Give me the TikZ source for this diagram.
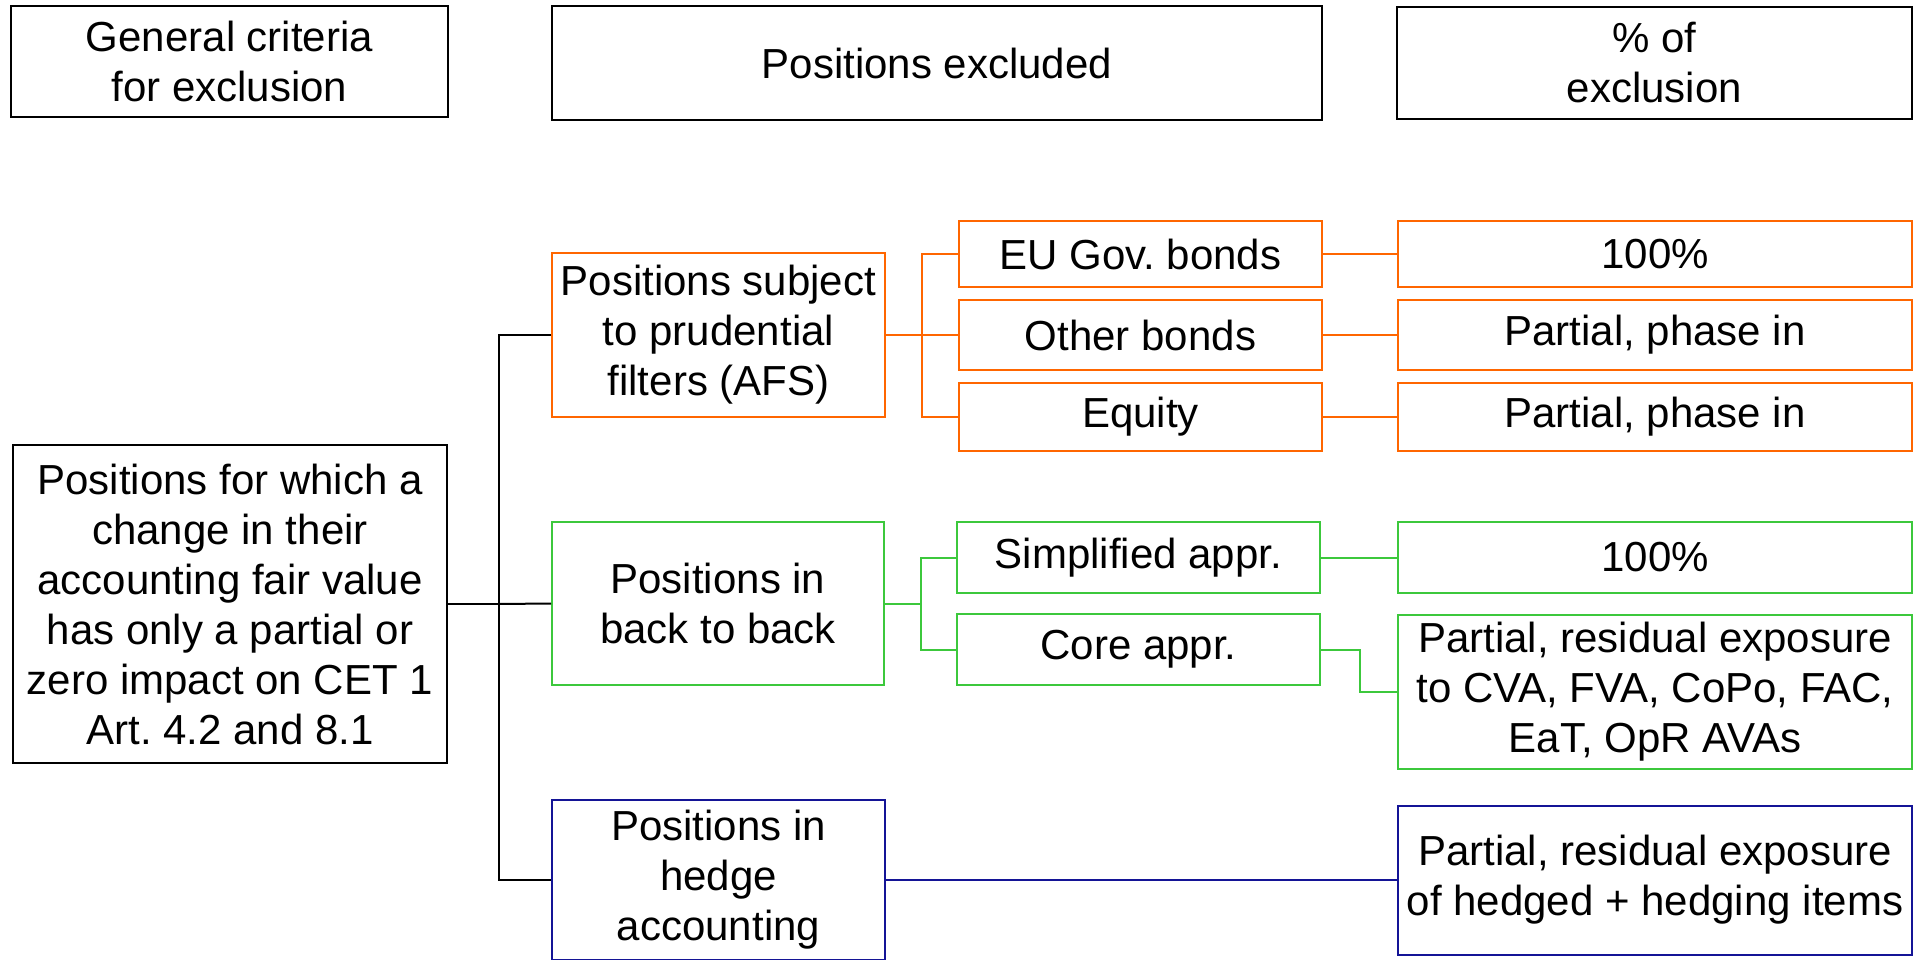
\documentclass[tikz,border=0pt]{standalone}
\usepackage{fontspec}
\setmainfont{Liberation Sans}
\frenchspacing
\definecolor{cOr}{RGB}{255,102,0}
\definecolor{cGr}{RGB}{60,200,60}
\definecolor{cBl}{RGB}{20,20,150}
\begin{document}
\begin{tikzpicture}[x=1pt,y=-1pt,
  box/.style={draw, line width=2pt, inner sep=0pt, align=center, font=\fontsize{42}{50}\selectfont\frenchspacing},
  obox/.style={box, draw=cOr},
  gbox/.style={box, draw=cGr},
  bbox/.style={box, draw=cBl},
  conn/.style={line width=2pt},
  oconn/.style={conn, draw=cOr},
  gconn/.style={conn, draw=cGr},
  bconn/.style={conn, draw=cBl}]
\useasboundingbox (0,0) rectangle (1923,960);
% headers
\node[box, minimum width=437pt, minimum height=111pt] (h1) at (229.5,61.5) {General criteria\\for exclusion};
\node[box, minimum width=770pt, minimum height=114pt] (h2) at (937,63.5) {Positions excluded};
\node[box, minimum width=515pt, minimum height=112pt] (h3) at (1654.5,63) {\% of\\exclusion};
% main
\node[box, minimum width=434pt, minimum height=318pt] (main) at (230,604) {Positions for which a\\change in their\\accounting fair value\\has only a partial or\\zero impact on CET 1\\Art.\ 4.2 and 8.1};
% second level
\node[obox, minimum width=333pt, minimum height=163pt] (afs) at (718.5,335) {Positions subject\\to prudential\\filters (AFS)};
\node[gbox, minimum width=332pt, minimum height=163pt] (b2b) at (718,603.5) {Positions in\\back to back};
\node[bbox, minimum width=333pt, minimum height=160pt] (hedge) at (718.5,880) {Positions in\\hedge\\accounting};
% third level orange
\node[obox, minimum width=363pt, minimum height=66pt] (eu) at (1140.5,254) {EU Gov.\ bonds};
\node[obox, minimum width=363pt, minimum height=70pt] (ob) at (1140.5,335) {Other bonds};
\node[obox, minimum width=363pt, minimum height=68pt] (eq) at (1140.5,417) {Equity};
\node[obox, minimum width=514pt, minimum height=66pt] (p1) at (1655,254) {100\%};
\node[obox, minimum width=514pt, minimum height=70pt] (p2) at (1655,335) {Partial, phase in};
\node[obox, minimum width=514pt, minimum height=68pt] (p3) at (1655,417) {Partial, phase in};
% third level green
\node[gbox, minimum width=363pt, minimum height=71pt] (simp) at (1138.5,557.5) {Simplified appr.};
\node[gbox, minimum width=363pt, minimum height=71pt] (core) at (1138.5,649.5) {Core appr.};
\node[gbox, minimum width=514pt, minimum height=71pt] (g1) at (1655,557.5) {100\%};
\node[gbox, minimum width=514pt, minimum height=154pt] (g2) at (1655,692) {Partial, residual exposure\\to CVA, FVA, CoPo, FAC,\\EaT, OpR AVAs};
% blue
\node[bbox, minimum width=514pt, minimum height=149pt] (bp) at (1655,880) {Partial, residual exposure\\of hedged + hedging items};
% connectors black
\coordinate (bj) at (499,604);
\draw[conn] (main.east) -- (bj);
\draw[conn] (afs.west) -| (bj) |- (hedge.west);
\draw[conn] (bj) -- (b2b.west);
% orange
\coordinate (oj) at (922,335);
\draw[oconn] (afs.east) -- (oj);
\draw[oconn] (eu.west) -| (oj) |- (eq.west);
\draw[oconn] (oj) -- (ob.west);
\draw[oconn] (eu.east) -- (p1.west);
\draw[oconn] (ob.east) -- (p2.west);
\draw[oconn] (eq.east) -- (p3.west);
% green
\coordinate (gj) at (920.5,603.5);
\draw[gconn] (b2b.east) -- (gj);
\draw[gconn] (simp.west) -| (gj) |- (core.west);
\draw[gconn] (simp.east) -- (g1.west);
\draw[gconn] (core.east) -- ++(39,0) |- (g2.west);
% blue
\draw[bconn] (hedge.east) -- (bp.west);
\end{tikzpicture}
\end{document}
